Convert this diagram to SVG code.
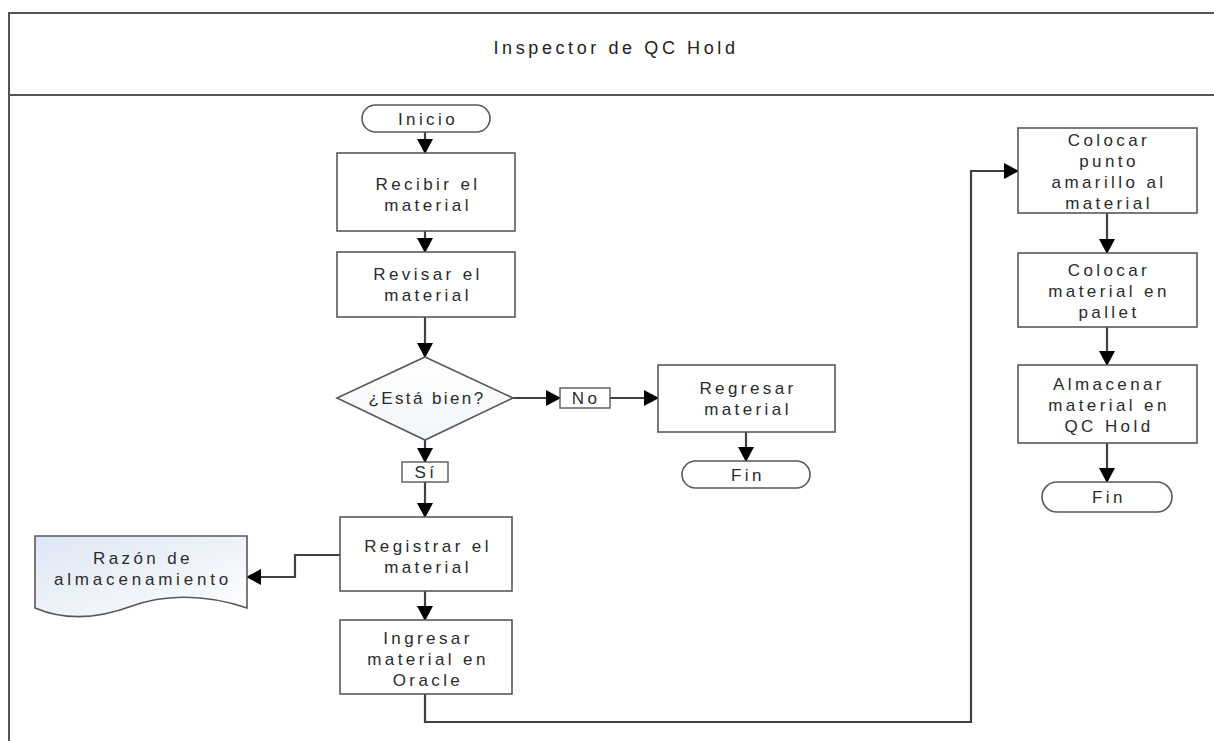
<svg xmlns="http://www.w3.org/2000/svg" width="1214" height="741" viewBox="0 0 1214 741">
  <defs>
    <style>
      .frame { fill: none; stroke: #555555; stroke-width: 2; }
      .box { fill: #ffffff; stroke: #595959; stroke-width: 1.6; }
      .lbl { fill: #ffffff; stroke: #595959; stroke-width: 1.4; }
      .txt { font-family: "Liberation Sans", Arial, sans-serif; font-size: 17px; letter-spacing: 3.4px; fill: #2b2b2b; text-anchor: middle; }
      .title { font-family: "Liberation Sans", Arial, sans-serif; font-size: 18px; letter-spacing: 3.6px; fill: #222222; text-anchor: middle; }
      .conn { fill: none; stroke: #404040; stroke-width: 2.2; marker-end: url(#arrow); }
    </style>
    <marker id="arrow" markerUnits="userSpaceOnUse" markerWidth="15" markerHeight="16" viewBox="0 0 15 16" refX="14" refY="8" orient="auto">
      <path d="M0,0 L15,8 L0,16 z" fill="#000000"/>
    </marker>
    <linearGradient id="docFill" x1="0" y1="0" x2="1" y2="1">
      <stop offset="0" stop-color="#dce6f4"/>
      <stop offset="1" stop-color="#ffffff"/>
    </linearGradient>
    <linearGradient id="diaFill" x1="0" y1="0" x2="0" y2="1">
      <stop offset="0" stop-color="#ffffff"/>
      <stop offset="1" stop-color="#f2f5fa"/>
    </linearGradient>
  </defs>

  <!-- swimlane frame and header -->
  <g id="lane">
    <path class="frame" d="M9,741 V13 H1214"/>
    <path class="frame" d="M9,95 H1214"/>
    <text class="title" x="616" y="54">Inspector de QC Hold</text>
  </g>

  <!-- connectors -->
  <g id="connectors">
    <path class="conn" d="M425,132 V153"/>
    <path class="conn" d="M425,231 V252"/>
    <path class="conn" d="M425,317 V357"/>
    <path class="conn" d="M513,398 H560"/>
    <path class="conn" d="M610,398 H658"/>
    <path class="conn" d="M746,432 V461"/>
    <path class="conn" d="M425,440 V462"/>
    <path class="conn" d="M425,482 V517"/>
    <path class="conn" d="M340,555 H295 V577 H247"/>
    <path class="conn" d="M425,591 V620"/>
    <path class="conn" d="M425,694 V722 H971 V171 H1018"/>
    <path class="conn" d="M1107,213 V253"/>
    <path class="conn" d="M1107,327 V365"/>
    <path class="conn" d="M1107,443 V482"/>
  </g>

  <g id="inicio">
    <rect class="box" x="362" y="105" width="128" height="27" rx="13.5"/>
    <text class="txt" x="428" y="125">Inicio</text>
  </g>

  <g id="recibir">
    <rect class="box" x="337" y="153" width="178" height="78"/>
    <text class="txt" x="428" y="190">Recibir el</text>
    <text class="txt" x="428" y="211">material</text>
  </g>

  <g id="revisar">
    <rect class="box" x="337" y="252" width="178" height="65"/>
    <text class="txt" x="428" y="280">Revisar el</text>
    <text class="txt" x="428" y="301">material</text>
  </g>

  <g id="decision">
    <polygon class="box" style="fill:url(#diaFill)" points="425,357 513,398 425,440 337,398"/>
    <text class="txt" x="427" y="404" style="letter-spacing:2.4px">¿Está bien?</text>
  </g>

  <g id="label-no">
    <rect class="lbl" x="560" y="388" width="50" height="20"/>
    <text class="txt" x="586" y="404">No</text>
  </g>

  <g id="regresar">
    <rect class="box" x="658" y="365" width="177" height="67"/>
    <text class="txt" x="748" y="394">Regresar</text>
    <text class="txt" x="748" y="415">material</text>
  </g>

  <g id="fin-regresar">
    <rect class="box" x="682" y="461" width="128" height="27" rx="13.5"/>
    <text class="txt" x="748" y="481">Fin</text>
  </g>

  <g id="label-si">
    <rect class="lbl" x="402" y="462" width="46" height="20"/>
    <text class="txt" x="426" y="478">Sí</text>
  </g>

  <g id="registrar">
    <rect class="box" x="340" y="517" width="172" height="74"/>
    <text class="txt" x="428" y="552">Registrar el</text>
    <text class="txt" x="428" y="573">material</text>
  </g>

  <g id="razon">
    <path class="box" style="fill:url(#docFill)" d="M35,536 H247 V608 C200,592 160,596 132,606 C100,618 68,622 35,608 Z"/>
    <text class="txt" x="143" y="564">Razón de</text>
    <text class="txt" x="143" y="585" style="letter-spacing:3.8px">almacenamiento</text>
  </g>

  <g id="ingresar">
    <rect class="box" x="340" y="620" width="172" height="74"/>
    <text class="txt" x="428" y="644">Ingresar</text>
    <text class="txt" x="428" y="665">material en</text>
    <text class="txt" x="428" y="686">Oracle</text>
  </g>

  <g id="colocar-punto">
    <rect class="box" x="1018" y="128" width="179" height="85"/>
    <text class="txt" x="1109" y="146">Colocar</text>
    <text class="txt" x="1109" y="167">punto</text>
    <text class="txt" x="1109" y="188">amarillo al</text>
    <text class="txt" x="1109" y="209">material</text>
  </g>

  <g id="colocar-pallet">
    <rect class="box" x="1018" y="253" width="179" height="74"/>
    <text class="txt" x="1109" y="276">Colocar</text>
    <text class="txt" x="1109" y="297">material en</text>
    <text class="txt" x="1109" y="318">pallet</text>
  </g>

  <g id="almacenar">
    <rect class="box" x="1018" y="365" width="179" height="78"/>
    <text class="txt" x="1109" y="390">Almacenar</text>
    <text class="txt" x="1109" y="411">material en</text>
    <text class="txt" x="1109" y="432">QC Hold</text>
  </g>

  <g id="fin-almacenar">
    <rect class="box" x="1042" y="482" width="130" height="30" rx="15"/>
    <text class="txt" x="1109" y="503">Fin</text>
  </g>
</svg>
